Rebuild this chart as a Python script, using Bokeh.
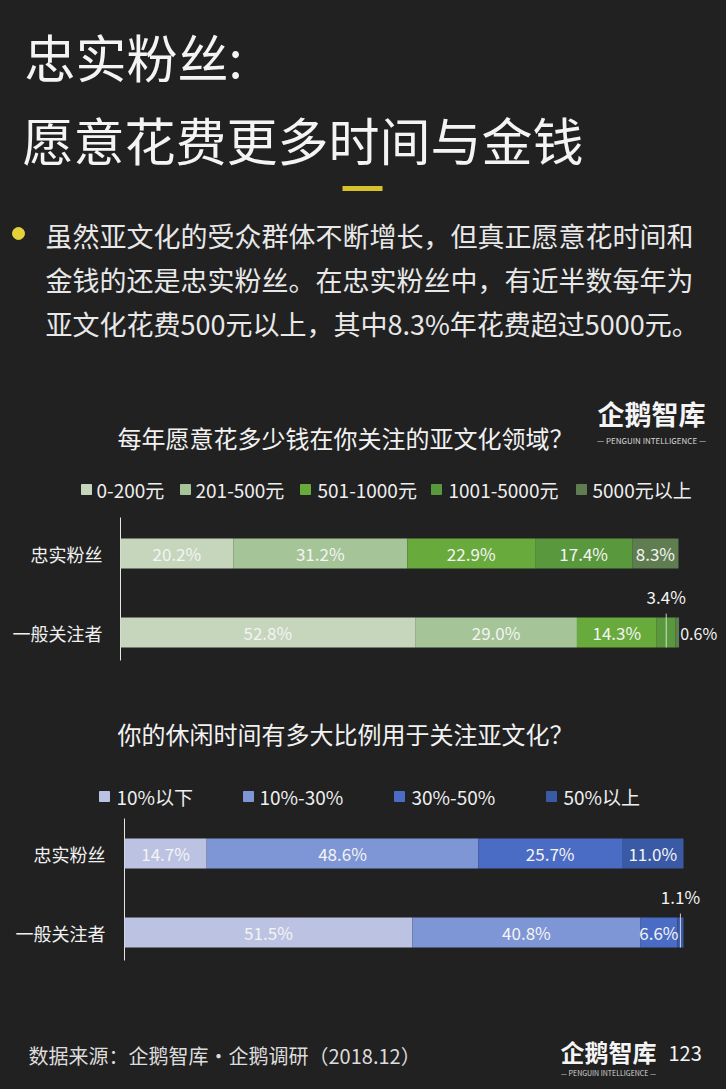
from bokeh.plotting import figure
from bokeh.layouts import column
from bokeh.models import Range1d
from bokeh.core.properties import value
from bokeh.embed import file_html
from bokeh.resources import INLINE

# ---------------- data ----------------
title_lines = ["忠实粉丝:", "愿意花费更多时间与金钱"]
bullet_lines = [
    "虽然亚文化的受众群体不断增长，但真正愿意花时间和",
    "金钱的还是忠实粉丝。在忠实粉丝中，有近半数每年为",
    "亚文化花费500元以上，其中8.3%年花费超过5000元。",
]
groups = ["忠实粉丝", "一般关注者"]

spend_title = "每年愿意花多少钱在你关注的亚文化领域？"
spend_cats = ["0-200元", "201-500元", "501-1000元", "1001-5000元", "5000元以上"]
spend_loyal = [20.2, 31.2, 22.9, 17.4, 8.3]
spend_general = [52.8, 29.0, 14.3, 3.4, 0.6]
spend_colors = ["#c5d6bd", "#a5c497", "#69aa3d", "#5a983e", "#5f7d50"]

time_title = "你的休闲时间有多大比例用于关注亚文化？"
time_cats = ["10%以下", "10%-30%", "30%-50%", "50%以上"]
time_loyal = [14.7, 48.6, 25.7, 11.0]
time_general = [51.5, 40.8, 6.6, 1.1]
time_colors = ["#bcc3e2", "#7e96d5", "#4b6cc5", "#3a5aa6"]

logo_text = "企鹅智库"
logo_sub = "— PENGUIN INTELLIGENCE —"
source_text = "数据来源：企鹅智库·企鹅调研（2018.12）"
page_no = "123"

# ---------------- style ----------------
BG = "#212121"
FONT = value("Noto Sans CJK SC")
WIDTH = 710


def base_fig(h, xr, yr):
    p = figure(width=WIDTH, height=h, x_range=xr, y_range=yr,
               output_backend="svg", toolbar_location=None,
               x_axis_location=None, y_axis_location=None,
               min_border=0, background_fill_color=BG,
               border_fill_color=BG, outline_line_color=None)
    p.min_border_left = p.min_border_right = 0
    p.min_border_top = p.min_border_bottom = 0
    p.grid.visible = False
    return p


# ---------------- header ----------------
HH = 372
head = base_fig(HH, Range1d(0, WIDTH), Range1d(HH, 0))
head.text(x=[16], y=[47], text=[title_lines[0]], text_font=FONT,
          text_font_size="51px", text_color="#f4f4f4", text_baseline="middle")
head.text(x=[14], y=[130], text=[title_lines[1]], text_font=FONT,
          text_font_size="51px", text_color="#f4f4f4", text_baseline="middle")
head.segment(x0=[334], x1=[374], y0=[180], y1=[180], line_width=5,
             line_color="#d8c22c")
head.scatter(x=[10], y=[225], size=12, color="#e4d23a")
head.text(x=[37] * 3, y=[227, 271, 315], text=bullet_lines, text_font=FONT,
          text_font_size="27px", text_color="#e8e8e8", text_baseline="middle")


# ---------------- bar charts ----------------
def bar_chart(H, X0, W, title, cats, loyal, general, colors,
              title_y, legend_y, marker_px, label_px, axis_span, group_right,
              logo=False):
    R = 79.0      # pixels per row
    C0 = 173.0    # pixel (from top) of first row centre

    def ux(px):
        return (px - X0) / W * 100.0

    def uy(py):
        return (py - C0) / R

    p = base_fig(H, Range1d(ux(0), ux(WIDTH)), Range1d(uy(H), uy(0)))

    # title
    p.text(x=[ux(109)], y=[uy(title_y)], text=[title], text_font=FONT,
           text_font_size="24px", text_color="#f2f2f2", text_baseline="middle")

    if logo:
        p.text(x=[ux(643)], y=[uy(33)], text=[logo_text], text_font=FONT,
               text_font_size="27px", text_font_style="bold",
               text_color="#f4f4f4", text_align="center", text_baseline="middle")
        p.text(x=[ux(643)], y=[uy(60)], text=[logo_sub], text_font=FONT,
               text_font_size="8px", text_color="#d8d8d8",
               text_align="center", text_baseline="middle")

    # legend
    for c, col, mx, lx in zip(cats, colors, marker_px, label_px):
        p.scatter(x=[ux(mx)], y=[uy(legend_y)], marker="square", size=10,
                  color=col)
        p.text(x=[ux(lx)], y=[uy(legend_y)], text=[c], text_font=FONT,
               text_font_size="19px", text_color="#efefef",
               text_baseline="middle")

    # axis line at 0
    p.segment(x0=[0], x1=[0], y0=[uy(axis_span[0])], y1=[uy(axis_span[1])],
              line_color="#e6e6e6", line_width=1)

    # group labels
    rows = list(range(len(groups)))
    p.text(x=[ux(group_right)] * len(groups), y=rows, text=groups,
           text_font=FONT, text_font_size="18px", text_color="#f0f0f0",
           text_align="right", text_baseline="middle")

    bh = 30.0 / R
    series = [loyal, general]
    lefts = [[0.0] * len(cats) for _ in series]
    for r, vals in enumerate(series):
        acc = 0.0
        for j, v in enumerate(vals):
            lefts[r][j] = acc
            acc += v

    for j, col in enumerate(colors):
        l = [lefts[r][j] for r in rows]
        rr = [lefts[r][j] + series[r][j] for r in rows]
        p.hbar(y=rows, left=l, right=rr, height=bh, fill_color=col,
               line_color=None)

    # value labels
    for r in rows:
        vals = series[r]
        n = len(vals)
        for j, v in enumerate(vals):
            mid = lefts[r][j] + v / 2.0
            txt = f"{v:.1f}%"
            if v < 1.0 and j == n - 1:
                p.text(x=[lefts[r][j] + v + 0.2], y=[r], text=[txt],
                       text_font=FONT, text_font_size="16px",
                       text_color="#f4f4f4", text_baseline="middle")
            elif v < 5.0:
                p.segment(x0=[mid], x1=[mid], y0=[r - bh / 2 - 0.05],
                          y1=[r + bh / 2], line_color="#f0f0f0",
                          line_width=1, line_alpha=0.8)
                p.text(x=[mid], y=[r - 0.46], text=[txt], text_font=FONT,
                       text_font_size="17px", text_color="#f4f4f4",
                       text_align="center", text_baseline="middle")
            else:
                p.text(x=[mid], y=[r], text=[txt], text_font=FONT,
                       text_font_size="17px", text_color="#f4f4f4",
                       text_align="center", text_baseline="middle")
    return p


chart1 = bar_chart(300, 112, 558, spend_title, spend_cats, spend_loyal,
                   spend_general, spend_colors, 57, 109,
                   [78, 177, 297, 428, 573], [88, 187, 309, 440, 584],
                   (137, 280), 94, logo=True)

chart2 = bar_chart(330, 116, 559, time_title, time_cats, time_loyal,
                   time_general, time_colors, 53, 116,
                   [96, 240, 391, 543], [108, 251, 403, 555],
                   (138, 280), 97)

# ---------------- footer ----------------
FH = 71
foot = base_fig(FH, Range1d(0, WIDTH), Range1d(FH, 0))
foot.text(x=[20], y=[45], text=[source_text], text_font=FONT,
          text_font_size="20px", text_color="#dcdcdc", text_baseline="middle")
foot.text(x=[600], y=[41], text=[logo_text], text_font=FONT,
          text_font_size="24px", text_font_style="bold", text_color="#f4f4f4",
          text_align="center", text_baseline="middle")
foot.text(x=[600], y=[62], text=[logo_sub], text_font=FONT,
          text_font_size="7px", text_color="#d8d8d8", text_align="center",
          text_baseline="middle")
foot.text(x=[660], y=[43], text=[page_no], text_font=FONT,
          text_font_size="20px", text_color="#f4f4f4", text_baseline="middle")

layout = column(head, chart1, chart2, foot, spacing=0)

html = file_html(layout, INLINE)
html = html.replace(
    "</head>",
    "<style>html,body{background:%s;} body{margin:8px !important;"
    "height:auto !important;}</style></head>" % BG, 1)
open("out.html", "w").write(html)
